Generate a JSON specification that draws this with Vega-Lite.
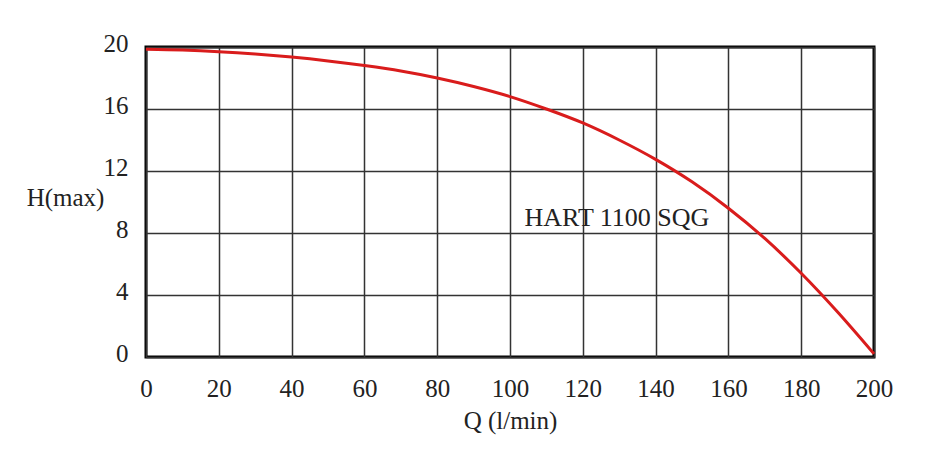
{
  "$schema": "https://vega.github.io/schema/vega-lite/v6.json",
  "autosize": "none",
  "padding": {"left": 146, "top": 47, "right": 56, "bottom": 98},
  "width": 728,
  "height": 310,
  "background": "white",
  "config": {
    "font": "Liberation Serif",
    "view": {"stroke": "black", "strokeWidth": 3},
    "axis": {
      "labelFont": "Liberation Serif",
      "titleFont": "Liberation Serif",
      "labelFontSize": 25,
      "titleFontSize": 25,
      "labelColor": "#222",
      "titleColor": "#222",
      "titleFontWeight": "normal",
      "ticks": false,
      "domain": false,
      "labelFlush": false,
      "labelOverlap": false,
      "gridColor": "#333",
      "gridWidth": 1.5,
      "gridOpacity": 1
    }
  },
  "datasets": {
    "curve": [
      {"Q": 0, "H": 19.85},
      {"Q": 10, "H": 19.8},
      {"Q": 20, "H": 19.7},
      {"Q": 30, "H": 19.55},
      {"Q": 40, "H": 19.35},
      {"Q": 50, "H": 19.1},
      {"Q": 60, "H": 18.8},
      {"Q": 70, "H": 18.45},
      {"Q": 80, "H": 18.0},
      {"Q": 90, "H": 17.45},
      {"Q": 100, "H": 16.8},
      {"Q": 110, "H": 16.0},
      {"Q": 120, "H": 15.1},
      {"Q": 130, "H": 14.0},
      {"Q": 140, "H": 12.75},
      {"Q": 150, "H": 11.3},
      {"Q": 160, "H": 9.6},
      {"Q": 170, "H": 7.65},
      {"Q": 180, "H": 5.4},
      {"Q": 190, "H": 2.9},
      {"Q": 200, "H": 0.2}
    ],
    "label": [{"Q": 104, "H": 9, "text": "HART 1100 SQG"}]
  },
  "layer": [
    {
      "data": {"name": "curve"},
      "mark": {"type": "line", "color": "#d91c1c", "strokeWidth": 3, "interpolate": "monotone"},
      "encoding": {
        "x": {
          "field": "Q", "type": "quantitative",
          "scale": {"domain": [0, 200], "nice": false},
          "axis": {
            "values": [0, 20, 40, 60, 80, 100, 120, 140, 160, 180, 200],
            "title": "Q (l/min)",
            "labelPadding": 19,
            "titleY": 63,
            "titleBaseline": "middle"
          }
        },
        "y": {
          "field": "H", "type": "quantitative",
          "scale": {"domain": [0, 20], "nice": false},
          "axis": {
            "values": [0, 4, 8, 12, 16, 20],
            "title": "H(max)",
            "titleAngle": 0,
            "titleX": -81,
            "titleY": 150,
            "titleAlign": "center",
            "titleBaseline": "middle",
            "labelPadding": 18,
            "labelOffset": -4
          }
        }
      }
    },
    {
      "data": {"name": "label"},
      "mark": {"type": "text", "align": "left", "baseline": "middle", "fontSize": 26, "color": "#222", "font": "Liberation Serif"},
      "encoding": {
        "x": {"field": "Q", "type": "quantitative"},
        "y": {"field": "H", "type": "quantitative"},
        "text": {"field": "text"}
      }
    }
  ]
}
